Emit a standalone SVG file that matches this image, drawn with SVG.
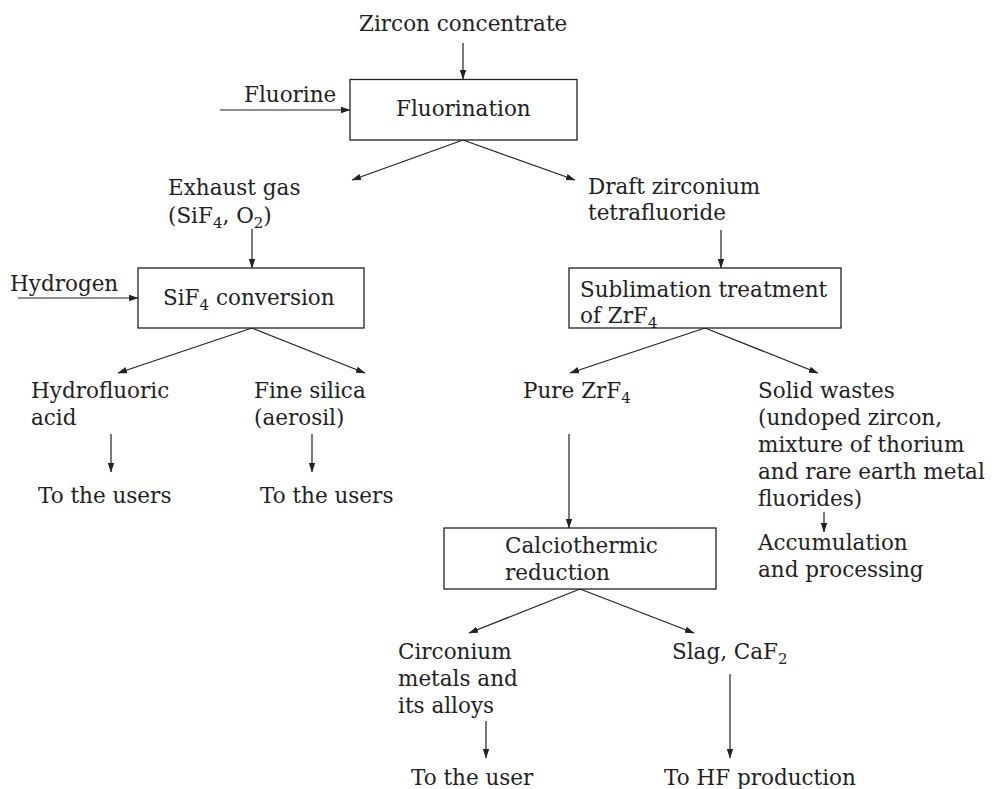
<svg xmlns="http://www.w3.org/2000/svg" width="994" height="789" viewBox="0 0 994 789">
<style>
text{font-family:"DejaVu Serif","Liberation Serif",serif;font-size:21.5px;fill:#222}
.sub{font-size:15px}
.box{fill:#fff;stroke:#222;stroke-width:1.3}
.ln{stroke:#222;stroke-width:1.2;fill:none;marker-end:url(#ah)}
</style>
<defs>
<marker id="ah" markerUnits="userSpaceOnUse" markerWidth="10" markerHeight="8" viewBox="0 0 10 8" refX="9" refY="4" orient="auto">
<path d="M0,0.8 L9.5,4 L0,7.2 z" fill="#222"/>
</marker>
</defs>
<rect width="994" height="789" fill="#fff"/>
<g id="connectors">
<line class="ln" x1="463" y1="43" x2="463" y2="79"/>
<line class="ln" x1="220" y1="110" x2="350" y2="110"/>
<line class="ln" x1="463" y1="140" x2="352" y2="180"/>
<line class="ln" x1="463" y1="140" x2="575" y2="180"/>
<line class="ln" x1="252" y1="229" x2="252" y2="268"/>
<line class="ln" x1="721" y1="230" x2="721" y2="268"/>
<line class="ln" x1="18" y1="298" x2="138" y2="298"/>
<line class="ln" x1="252" y1="328" x2="118" y2="373"/>
<line class="ln" x1="252" y1="328" x2="365" y2="373"/>
<line class="ln" x1="705" y1="328" x2="570" y2="373"/>
<line class="ln" x1="705" y1="328" x2="818" y2="373"/>
<line class="ln" x1="111" y1="434" x2="111" y2="472"/>
<line class="ln" x1="312" y1="434" x2="312" y2="472"/>
<line class="ln" x1="569" y1="434" x2="569" y2="528"/>
<line class="ln" x1="824" y1="512" x2="824" y2="532"/>
<line class="ln" x1="580" y1="589" x2="469" y2="633"/>
<line class="ln" x1="580" y1="589" x2="694" y2="633"/>
<line class="ln" x1="486" y1="721" x2="486" y2="758"/>
<line class="ln" x1="730" y1="674" x2="730" y2="758"/>
</g>
<g id="zircon"><text x="359" y="31">Zircon concentrate</text></g>
<g id="fluorine"><text x="244" y="102">Fluorine</text></g>
<g id="fluorination">
<rect class="box" x="350" y="79.5" width="227" height="60.5"/>
<text x="396" y="116">Fluorination</text>
</g>
<g id="exhaust">
<text x="168" y="195">Exhaust gas</text>
<text x="168" y="223">(SiF<tspan class="sub" dy="5">4</tspan><tspan dy="-5">, O</tspan><tspan class="sub" dy="5">2</tspan><tspan dy="-5">)</tspan></text>
</g>
<g id="draft">
<text x="588" y="194">Draft zirconium</text>
<text x="588" y="220">tetrafluoride</text>
</g>
<g id="hydrogen"><text x="10" y="291">Hydrogen</text></g>
<g id="sif4conv">
<rect class="box" x="138" y="268" width="226" height="60"/>
<text x="163" y="304.5">SiF<tspan class="sub" dy="5">4</tspan><tspan dy="-5"> conversion</tspan></text>
</g>
<g id="sublimation">
<rect class="box" x="569" y="268" width="272" height="60"/>
<text x="580" y="297">Sublimation treatment</text>
<text x="580" y="323">of ZrF<tspan class="sub" dy="5">4</tspan></text>
</g>
<g id="hf">
<text x="31" y="398">Hydrofluoric</text>
<text x="31" y="425">acid</text>
</g>
<g id="silica">
<text x="254" y="398">Fine silica</text>
<text x="254" y="425">(aerosil)</text>
</g>
<g id="users1"><text x="38" y="503">To the users</text></g>
<g id="users2"><text x="260" y="503">To the users</text></g>
<g id="purezrf4"><text x="523" y="398">Pure ZrF<tspan class="sub" dy="5">4</tspan></text></g>
<g id="solidwastes">
<text x="758" y="398">Solid wastes</text>
<text x="758" y="425">(undoped zircon,</text>
<text x="758" y="452">mixture of thorium</text>
<text x="758" y="479">and rare earth metal</text>
<text x="758" y="506">fluorides)</text>
</g>
<g id="accumulation">
<text x="758" y="550">Accumulation</text>
<text x="758" y="577">and processing</text>
</g>
<g id="calcio">
<rect class="box" x="444" y="528" width="272" height="61"/>
<text x="505" y="553">Calciothermic</text>
<text x="505" y="580">reduction</text>
</g>
<g id="circonium">
<text x="398" y="659">Circonium</text>
<text x="398" y="686">metals and</text>
<text x="398" y="713">its alloys</text>
</g>
<g id="slag"><text x="672" y="659">Slag, CaF<tspan class="sub" dy="5">2</tspan></text></g>
<g id="user"><text x="411" y="785">To the user</text></g>
<g id="hfprod"><text x="664" y="785">To HF production</text></g>
</svg>
